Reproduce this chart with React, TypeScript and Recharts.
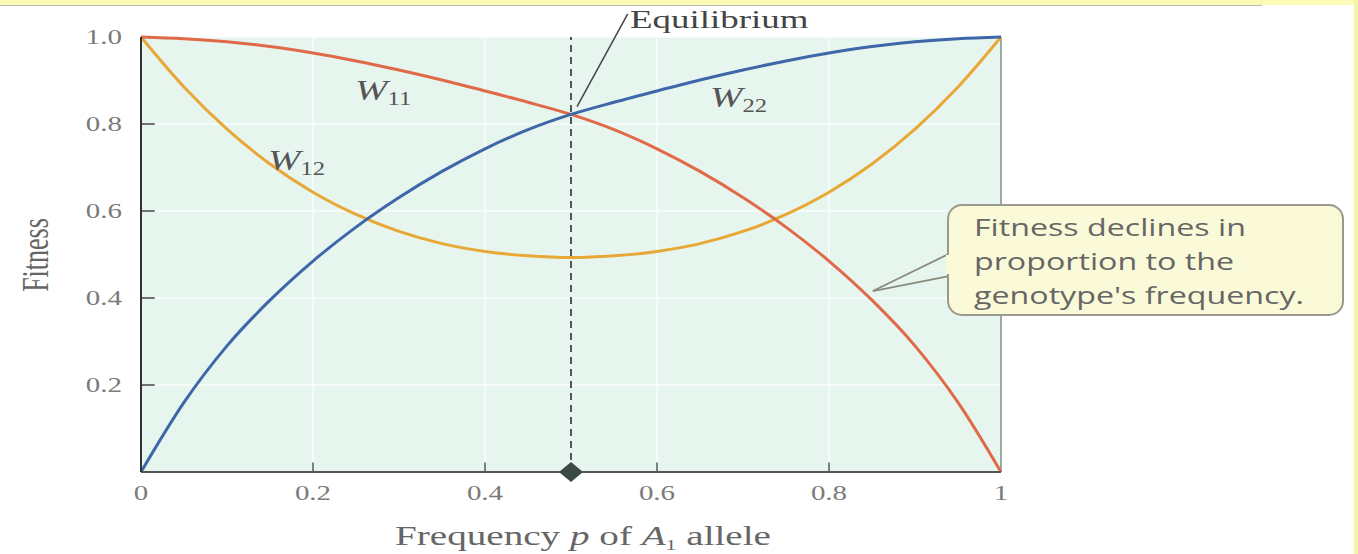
import React from "react";
import {
  ComposedChart,
  Line,
  XAxis,
  YAxis,
  CartesianGrid,
  ReferenceLine,
  ReferenceDot,
  Label,
} from "recharts";

// allele frequency p and the three genotype fitness curves
const freqP = [0, 0.05, 0.1, 0.15, 0.2, 0.25, 0.3, 0.35, 0.4, 0.45, 0.5, 0.55, 0.6, 0.65, 0.7, 0.75, 0.8, 0.85, 0.9, 0.95, 1];
const w11 = [1, 0.996, 0.989, 0.978, 0.963, 0.945, 0.924, 0.901, 0.876, 0.85, 0.822, 0.787, 0.743, 0.691, 0.631, 0.563, 0.485, 0.395, 0.29, 0.16, 0];
const w12 = [1, 0.885, 0.788, 0.708, 0.643, 0.592, 0.553, 0.525, 0.507, 0.497, 0.493, 0.497, 0.507, 0.525, 0.553, 0.592, 0.643, 0.708, 0.788, 0.885, 1];
const w22 = [0, 0.16, 0.29, 0.395, 0.485, 0.563, 0.631, 0.691, 0.743, 0.787, 0.822, 0.85, 0.876, 0.901, 0.924, 0.945, 0.963, 0.978, 0.989, 0.996, 1];

const xTicks = [0, 0.2, 0.4, 0.6, 0.8, 1];
const yTicks = [0.2, 0.4, 0.6, 0.8, 1.0];
const EQUILIBRIUM_P = 0.5;

// pointer lines, in data units
const equilibriumLeader = [
  { x: 0.507, y: 0.84 },
  { x: 0.566, y: 1.053 },
];
const calloutTip = { x: 0.851, y: 0.416 };
const calloutBase = [
  { x: 0.941, y: 0.503 },
  { x: 0.941, y: 0.451 },
];

const data = freqP.map((p, i) => ({ p, w11: w11[i], w12: w12[i], w22: w22[i] }));

const SERIF = '"Liberation Serif", "DejaVu Serif", serif';
const SANS = '"Open Sans", "Noto Sans", sans-serif';
const STRETCH = 1.45;

const XTick = (props: any) => {
  const { x, y, payload } = props;
  const v = payload.value;
  const text = v === 0 || v === 1 ? String(v) : v.toFixed(1);
  return (
    <text
      transform={`translate(${x},${y}) scale(${STRETCH},1)`}
      textAnchor="middle"
      dy="0.71em"
      fontFamily={SERIF}
      fontSize={20}
      fill="#7a7a7a"
    >
      {text}
    </text>
  );
};

const YTick = (props: any) => {
  const { x, y, payload } = props;
  return (
    <text
      transform={`translate(${x},${y}) scale(${STRETCH},1)`}
      textAnchor="end"
      dy="0.35em"
      fontFamily={SERIF}
      fontSize={20}
      fill="#7a7a7a"
    >
      {payload.value.toFixed(1)}
    </text>
  );
};

const XTitle = (props: any) => {
  const { viewBox } = props;
  const cx = viewBox.x + viewBox.width / 2 + 12;
  const y = viewBox.y + 73;
  return (
    <text
      transform={`translate(${cx},${y}) scale(${STRETCH},1)`}
      textAnchor="middle"
      fontFamily={SERIF}
      fontSize={27}
      fill="#666"
    >
      Frequency{" "}
      <tspan fontStyle="italic">p</tspan>
      {" of "}
      <tspan fontStyle="italic">A</tspan>
      <tspan fontSize={15} dy={5}>1</tspan>
      <tspan dy={-5}>{" allele"}</tspan>
    </text>
  );
};

const YTitle = () => (
  <text
    transform={`translate(48,255) scale(${STRETCH},1) rotate(-90)`}
    textAnchor="middle"
    fontFamily={SERIF}
    fontSize={26}
    fill="#666"
  >
    Fitness
  </text>
);

const Diamond = (props: any) => {
  const { cx, cy } = props;
  return (
    <polygon
      points={`${cx - 12},${cy} ${cx},${cy - 10} ${cx + 12},${cy} ${cx},${cy + 10}`}
      fill="#3b4a42"
    />
  );
};

const WLabel = ({ x, y, sub }: { x: number; y: number; sub: string }) => (
  <text
    transform={`translate(${x},${y}) scale(1.3,1)`}
    fontFamily={SERIF}
    fontSize={30}
    fill="#555"
  >
    <tspan fontStyle="italic">W</tspan>
    <tspan fontSize={19} dy={5}>{sub}</tspan>
  </text>
);

export default function App() {
  return (
    <div style={{ position: "relative", width: 1358, height: 554, background: "#fff", overflow: "hidden" }}>
      <style>{"body{margin:0}"}</style>
      <div style={{ position: "absolute", left: 0, top: 0, width: 1358, height: 5, background: "#fbfbb6" }} />
      <div style={{ position: "absolute", left: 0, top: 5, width: 1262, height: 1, background: "#b4bab0" }} />
      <div style={{ position: "absolute", right: 0, top: 0, width: 4, height: 554, background: "#f5f5a6" }} />

      <ComposedChart
        width={1358}
        height={554}
        data={data}
        margin={{ top: 37, right: 357, left: 81, bottom: 32 }}
      >
        <CartesianGrid fill="#e7f5ef" fillOpacity={1} stroke="#ffffff" strokeOpacity={0.8} strokeWidth={1.5} />
        <XAxis
          dataKey="p"
          type="number"
          domain={[0, 1]}
          ticks={xTicks}
          tickLine={false}
          tickSize={0}
          tickMargin={14}
          axisLine={{ stroke: "#555", strokeWidth: 2 }}
          height={50}
          tick={<XTick />}
        >
          <Label content={<XTitle />} />
        </XAxis>
        <YAxis
          type="number"
          domain={[0, 1]}
          ticks={yTicks}
          tickLine={false}
          tickSize={0}
          tickMargin={19}
          axisLine={{ stroke: "#333", strokeWidth: 2 }}
          width={60}
          tick={<YTick />}
        >
          <Label content={<YTitle />} />
        </YAxis>

        <ReferenceLine x={1} stroke="#7f8c86" strokeWidth={1.5} />
        <ReferenceLine x={EQUILIBRIUM_P} stroke="#555" strokeWidth={2} strokeDasharray="7 5" />
        {yTicks.map((v) => (
          <ReferenceLine key={`yt${v}`} segment={[{ x: 0, y: v }, { x: 0.016, y: v }]} stroke="#444" strokeWidth={1.5} />
        ))}
        {xTicks.slice(1, -1).map((v) => (
          <ReferenceLine key={`xt${v}`} segment={[{ x: v, y: 0 }, { x: v, y: 0.022 }]} stroke="#555" strokeWidth={1.5} />
        ))}

        <Line type="monotone" dataKey="w12" stroke="#e8a835" strokeWidth={3} dot={false} activeDot={false} isAnimationActive={false} />
        <Line type="monotone" dataKey="w11" stroke="#e06a48" strokeWidth={3} dot={false} activeDot={false} isAnimationActive={false} />
        <Line type="monotone" dataKey="w22" stroke="#3d67a8" strokeWidth={3} dot={false} activeDot={false} isAnimationActive={false} />

        <ReferenceLine segment={equilibriumLeader} ifOverflow="visible" stroke="#444" strokeWidth={1.5} />
        {calloutBase.map((b, i) => (
          <ReferenceLine key={`cb${i}`} segment={[calloutTip, b]} ifOverflow="visible" stroke="#8a8a7c" strokeWidth={1.8} />
        ))}
        <ReferenceDot x={EQUILIBRIUM_P} y={0} ifOverflow="visible" shape={<Diamond />} />
      </ComposedChart>

      <svg width={1358} height={554} style={{ position: "absolute", left: 0, top: 0, pointerEvents: "none" }}>
        <text
          transform="translate(630,28) scale(1.42,1)"
          fontFamily={SERIF}
          fontSize={26}
          fill="#444"
        >
          Equilibrium
        </text>
        <WLabel x={355} y={100} sub="11" />
        <WLabel x={268} y={170} sub="12" />
        <WLabel x={710} y={107} sub="22" />

        <rect x={948} y={205} width={395} height={110} rx={14} fill="#fbfad8" stroke="#9a9a8a" strokeWidth={2} />
        <rect x={946} y={255} width={6} height={19} fill="#fbfad8" />
        <g transform="translate(974,0)" fontFamily={SANS} fontSize={23} fill="#666">
          <text transform="translate(0,236) scale(1.4,1)">Fitness declines in</text>
          <text transform="translate(0,270) scale(1.4,1)">proportion to the</text>
          <text transform="translate(0,304) scale(1.4,1)">genotype's frequency.</text>
        </g>
      </svg>
    </div>
  );
}
